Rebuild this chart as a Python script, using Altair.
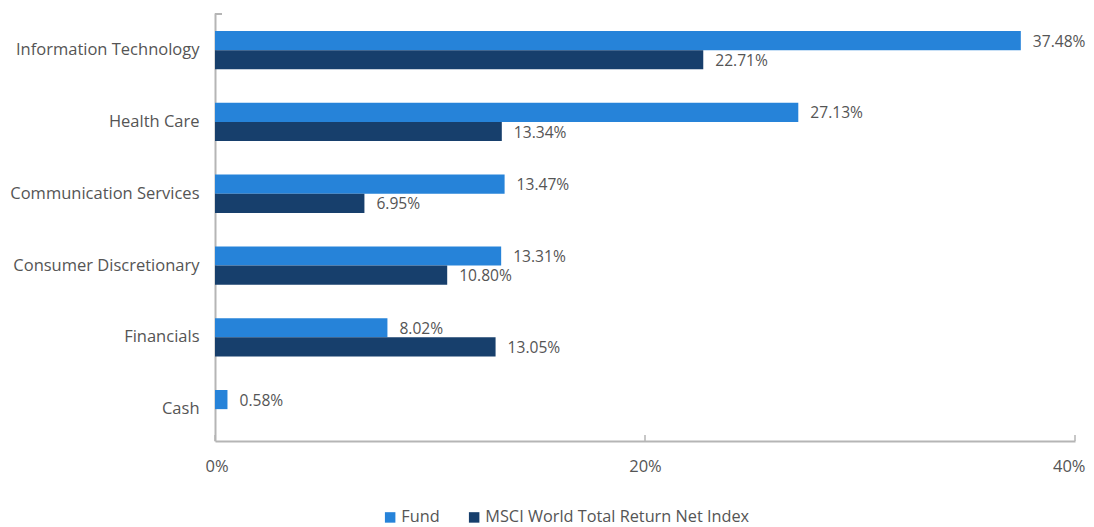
import altair as alt
import pandas as pd

categories = ["Information Technology", "Health Care", "Communication Services",
              "Consumer Discretionary", "Financials", "Cash"]
series = ["Fund", "MSCI World Total Return Net Index"]
fund_values = [37.48, 27.13, 13.47, 13.31, 8.02, 0.58]
index_values = [22.71, 13.34, 6.95, 10.80, 13.05, None]
x_ticks = [0, 20, 40]

rows = []
for c, f, i in zip(categories, fund_values, index_values):
    rows.append({"category": c, "series": series[0], "value": f, "label": f"{f:.2f}%"})
    if i is not None:
        rows.append({"category": c, "series": series[1], "value": i, "label": f"{i:.2f}%"})
df = pd.DataFrame(rows)
ticks_df = pd.DataFrame({"t": x_ticks})

FONT = "Open Sans"
FS = 16.5
TXT = "#555555"
AX = "#b5b5b5"

xscale = alt.Scale(domain=[0, 40], nice=False)
yscale = alt.Scale(domain=categories, paddingInner=0.467, paddingOuter=0.214, align=0.586)
oscale = alt.Scale(domain=series, paddingInner=0, paddingOuter=0)
color = alt.Color("series:N", scale=alt.Scale(domain=series, range=["#2683D9", "#173F6C"]),
                  legend=alt.Legend(title=None, orient="none", direction="horizontal",
                                    legendX=167, legendY=496, symbolType="square",
                                    symbolSize=110, symbolStrokeWidth=0,
                                    labelFont=FONT, labelFontSize=16.3, labelColor=TXT,
                                    labelLimit=500, columnPadding=26, labelOffset=3))

base = alt.Chart(df)

bars = base.mark_bar().encode(
    x=alt.X("value:Q", scale=xscale,
            axis=alt.Axis(values=x_ticks, labelExpr="datum.value + '%'", title=None,
                          grid=False, ticks=False, domainColor=AX, domainWidth=2,
                          labelFont=FONT, labelFontSize=FS, labelColor=TXT,
                          labelFlush=True, labelFlushOffset=10, labelPadding=17)),
    y=alt.Y("category:N", scale=yscale, sort=categories,
            axis=alt.Axis(title=None, ticks=False, domainColor=AX, domainWidth=2,
                          labelFont=FONT, labelFontSize=FS, labelColor=TXT,
                          labelLimit=400, labelPadding=16)),
    yOffset=alt.YOffset("series:N", scale=oscale),
    color=color,
)

labels = base.mark_text(align="left", baseline="middle", dx=12, dy=1, font=FONT,
                        fontSize=15.6, color=TXT).encode(
    x=alt.X("value:Q", scale=xscale),
    y=alt.Y("category:N", scale=yscale, sort=categories),
    yOffset=alt.YOffset("series:N", scale=oscale),
    text="label:N",
)

tick_marks = alt.Chart(ticks_df).mark_rule(color=AX, strokeWidth=1.5).encode(
    x=alt.X("t:Q", scale=xscale),
    y=alt.value(422),
    y2=alt.value(428),
)

top_tick = alt.Chart(ticks_df).mark_rule(color=AX, strokeWidth=2).encode(
    x=alt.value(0),
    x2=alt.value(7),
    y=alt.value(1),
)

chart = alt.layer(bars, labels, tick_marks, top_tick).properties(
    width=860, height=428,
    padding={"left": 207, "top": 5, "right": 11, "bottom": 86},
    autosize=alt.AutoSizeParams(type="none"),
).configure_view(stroke=None)

chart.save("out.html", embed_options={"renderer": "svg", "actions": False})
